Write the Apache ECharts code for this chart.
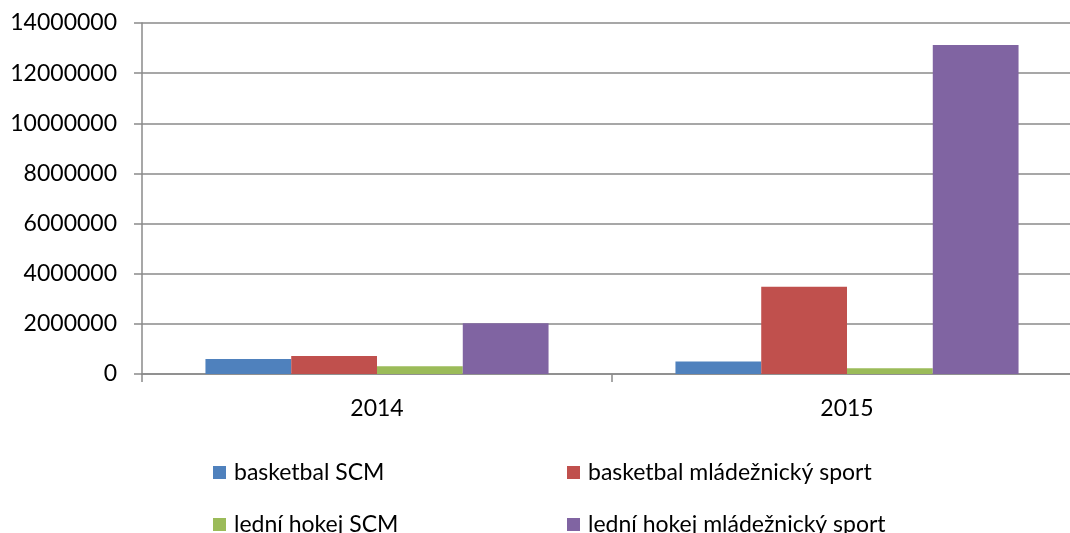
<!DOCTYPE html>
<html>
<head>
<meta charset="utf-8">
<script src="https://cdn.jsdelivr.net/npm/echarts@6/dist/echarts.min.js"></script>
<style>
  html, body { margin: 0; padding: 0; background: #fff; }
  #chart { width: 1070px; height: 533px; }
</style>
</head>
<body>
<div id="chart"></div>
<script>
  var years = ['2014', '2015']
  var basketbalScm = [600000, 500000]
  var basketbalMladez = [720000, 3480000]
  var hokejScm = [310000, 230000]
  var hokejMladez = [2020000, 13120000]

  var chart = echarts.init(document.getElementById('chart'))
  var font = 'Lato, "Open Sans", sans-serif'
  var axisGrey = '#8a8a8a'

  // one legend per item so the 2x2 layout stays put
  function legendItem(left, top, name) {
    return {
      left: left,
      top: top,
      icon: 'rect',
      itemWidth: 13,
      itemHeight: 13,
      data: [name],
      textStyle: {
        fontFamily: font,
        fontSize: 23,
        color: '#000',
        padding: [0, 0, 0, 3]
      }
    }
  }

  chart.setOption({
    color: ['#4F81BD', '#C0504D', '#9BBB59', '#8064A2'],
    animation: false,
    grid: {
      left: 142,
      width: 940,
      top: 23,
      bottom: 159,
      outerBoundsMode: 'none'
    },
    legend: [
      legendItem(208, 456, 'basketbal SCM'),
      legendItem(562, 456, 'basketbal mládežnický sport'),
      legendItem(208, 508, 'lední hokej SCM'),
      legendItem(562, 508, 'lední hokej mládežnický sport')
    ],
    xAxis: {
      type: 'category',
      data: years,
      axisLine: { lineStyle: { color: axisGrey, width: 1.5 } },
      axisTick: { show: true, length: 8, lineStyle: { color: axisGrey, width: 1.5 } },
      axisLabel: {
        margin: 23,
        fontFamily: font,
        fontSize: 23,
        color: '#000'
      }
    },
    yAxis: {
      type: 'value',
      min: 0,
      max: 14000000,
      interval: 2000000,
      axisLine: { show: true, lineStyle: { color: axisGrey, width: 1.5 } },
      axisTick: { show: true, length: 8, lineStyle: { color: axisGrey, width: 1.5 } },
      splitLine: { lineStyle: { color: axisGrey, width: 1.5 } },
      axisLabel: {
        margin: 25,
        fontFamily: font,
        fontSize: 23,
        color: '#000',
        formatter: function(v) { return String(v) }
      }
    },
    series: [
      { name: 'basketbal SCM', type: 'bar', data: basketbalScm, barGap: '0%', barCategoryGap: '27%' },
      { name: 'basketbal mládežnický sport', type: 'bar', data: basketbalMladez },
      { name: 'lední hokej SCM', type: 'bar', data: hokejScm },
      { name: 'lední hokej mládežnický sport', type: 'bar', data: hokejMladez }
    ]
  })
</script>
</body>
</html>
